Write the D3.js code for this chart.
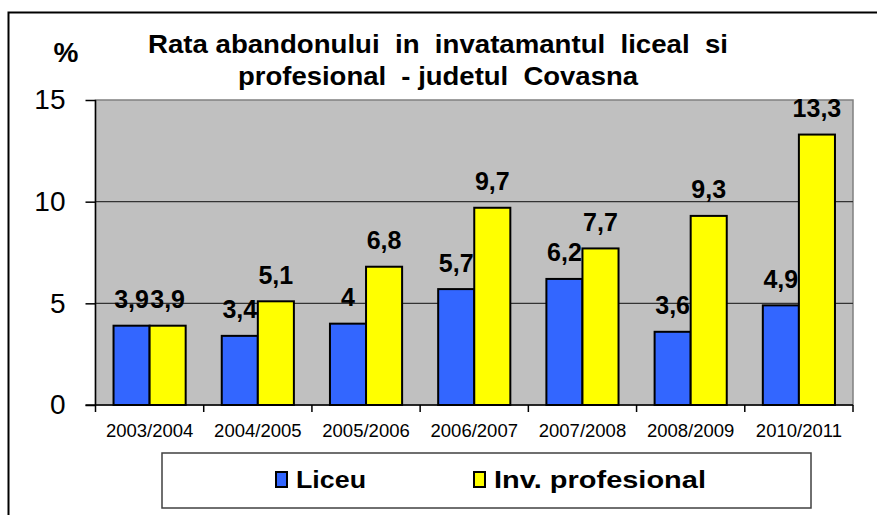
<!DOCTYPE html>
<html><head><meta charset="utf-8">
<script src="https://cdn.jsdelivr.net/npm/d3@7"></script>
<style>body{margin:0;background:#fff}svg{display:block;font-family:Arial,"Liberation Sans",sans-serif}</style>
</head><body><svg id="c" width="877" height="515"></svg>
<script>
const categories = ["2003/2004","2004/2005","2005/2006","2006/2007","2007/2008","2008/2009","2010/2011"];
const liceu = [3.9,3.4,4,5.7,6.2,3.6,4.9];
const profesional = [3.9,5.1,6.8,9.7,7.7,9.3,13.3];
const seriesNames = ["Liceu","Inv. profesional"];
const yTicks = [0,5,10,15];
const titleLines = ["Rata abandonului  in  invatamantul  liceal  si","profesional  - judetul  Covasna"];

const svg = d3.select("#c");
const L = 95.5, R = 853, T = 100, B = 405;
const x = d3.scaleBand().domain(categories).range([L, R]);
const y = d3.scaleLinear().domain([0, 15]).range([B, T]);
const colors = ["#3366FF", "#FFFF00"];
const fmt = v => String(v).replace(".", ",");

// outer border (top and left)
svg.append("path").attr("d", `M8.5,515 V12.5 H877`).attr("fill","none").attr("stroke","#000").attr("stroke-width",2);

// plot background
svg.append("rect").attr("x",L).attr("y",T).attr("width",R-L).attr("height",B-T)
  .attr("fill","#C0C0C0").attr("stroke","#808080").attr("stroke-width",1.5);

// gridlines
svg.append("g").selectAll("line").data(yTicks.filter(t=>t>0 && t<15)).join("line")
  .attr("x1",L).attr("x2",R).attr("y1",d=>y(d)).attr("y2",d=>y(d))
  .attr("stroke","#333").attr("stroke-width",1.2);

// bars
const bw = x.bandwidth()/3;
const series = [liceu, profesional];
series.forEach((vals, si) => {
  svg.append("g").selectAll("rect").data(vals).join("rect")
    .attr("x",(d,i)=>x(categories[i]) + x.bandwidth()/2 - bw + si*bw)
    .attr("y",d=>y(d)).attr("width",bw).attr("height",d=>B-y(d))
    .attr("fill",colors[si]).attr("stroke","#000").attr("stroke-width",2);
});
// labels
series.forEach((vals, si) => {
  svg.append("g").selectAll("text").data(vals).join("text")
    .attr("x",(d,i)=>x(categories[i]) + x.bandwidth()/2 - bw/2 + si*bw)
    .attr("y",d=>y(d)-17.5).attr("text-anchor","middle")
    .attr("font-size",25).attr("font-weight","bold").attr("fill","#000")
    .text(d=>fmt(d));
});

// y axis
const ya = svg.append("g").attr("transform",`translate(${L},0)`)
  .call(d3.axisLeft(y).tickValues(yTicks).tickSize(10).tickPadding(20).tickFormat(d3.format("d")));
ya.select(".domain").attr("stroke","#000").attr("stroke-width",1.5).attr("d",`M0,${T}V${B+7}`);
ya.selectAll(".tick line").attr("stroke","#000").attr("stroke-width",1.5);
ya.selectAll(".tick text").attr("font-size",28).attr("font-family","Arial,'Liberation Sans',sans-serif").attr("fill","#000");

// x axis
svg.append("line").attr("x1",L-10).attr("x2",R).attr("y1",B).attr("y2",B).attr("stroke","#000").attr("stroke-width",1.5);
svg.append("g").selectAll("line").data(categories.slice(1).concat(["end"])).join("line")
  .attr("x1",(d,i)=>L + (i+1)*x.step()).attr("x2",(d,i)=>L + (i+1)*x.step())
  .attr("y1",B).attr("y2",B+7).attr("stroke","#000").attr("stroke-width",1.5);
svg.append("g").selectAll("text").data(categories).join("text")
  .attr("x",d=>x(d)+x.bandwidth()/2).attr("y",437).attr("text-anchor","middle")
  .attr("font-size",18.5).attr("fill","#000").text(d=>d);

// % label
svg.append("text").attr("x",66).attr("y",62).attr("text-anchor","middle")
  .attr("font-size",28).attr("font-weight","bold").text("%");

// title
svg.append("g").selectAll("text").data(titleLines).join("text")
  .attr("x",438).attr("y",(d,i)=>53+i*32).attr("text-anchor","middle")
  .style("white-space","pre")
  .attr("font-size",26).attr("font-weight","bold").attr("fill","#000")
  .attr("textLength",(d,i)=>i===0?580:400).attr("lengthAdjust","spacingAndGlyphs")
  .text(d=>d);

// legend
svg.append("rect").attr("x",162).attr("y",453).attr("width",649).attr("height",55)
  .attr("fill","#fff").attr("stroke","#404040").attr("stroke-width",1.5);
const legX = [276, 474], legW = [70, 212];
seriesNames.forEach((n,i)=>{
  svg.append("rect").attr("x",legX[i]).attr("y",472).attr("width",11).attr("height",15)
    .attr("fill",colors[i]).attr("stroke","#000").attr("stroke-width",2);
  svg.append("text").attr("x",legX[i]+20).attr("y",488).attr("font-size",24).attr("font-weight","bold")
    .attr("textLength",legW[i]).attr("lengthAdjust","spacingAndGlyphs").text(n);
});
</script></body></html>
